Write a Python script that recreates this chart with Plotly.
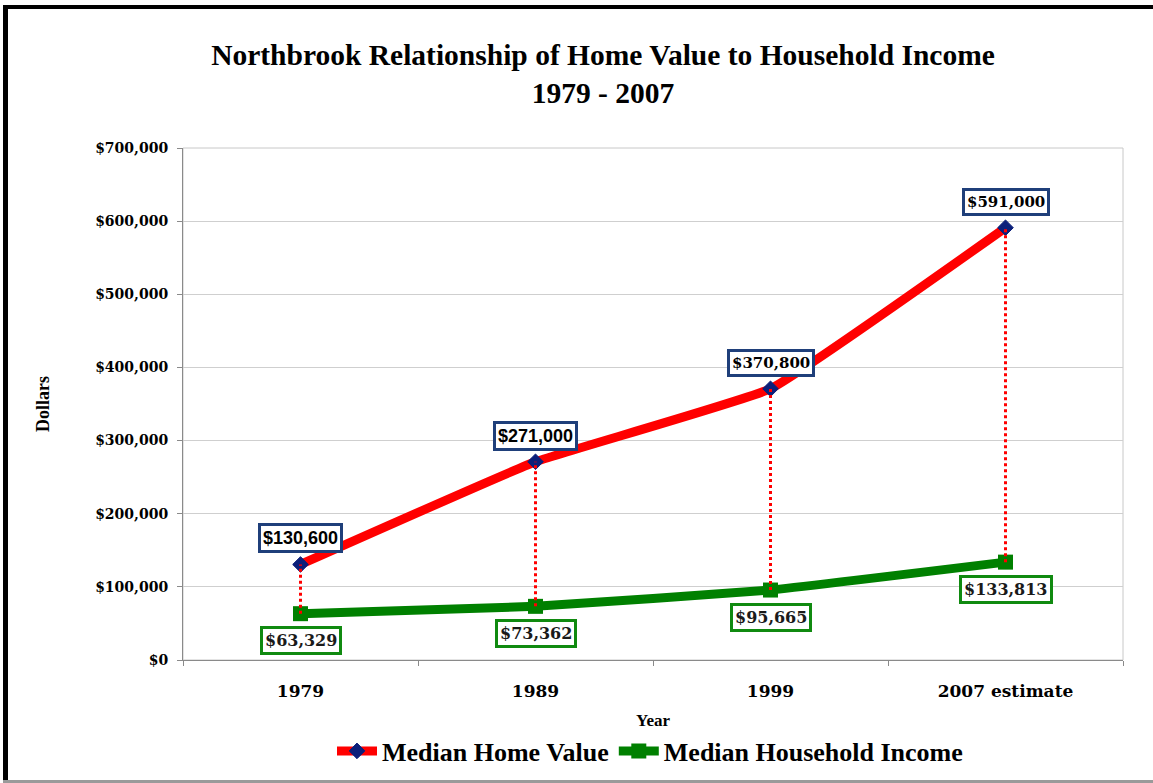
import plotly.graph_objects as go

categories = ["1979", "1989", "1999", "2007 estimate"]
home_value = [130600, 271000, 370800, 591000]
household_income = [63329, 73362, 95665, 133813]
home_labels = ["$130,600", "$271,000", "$370,800", "$591,000"]
income_labels = ["$63,329", "$73,362", "$95,665", "$133,813"]
y_ticks = [0, 100000, 200000, 300000, 400000, 500000, 600000, 700000]
y_tick_labels = ["$0", "$100,000", "$200,000", "$300,000", "$400,000", "$500,000", "$600,000", "$700,000"]

W, H = 1153, 783
PLOT_LEFT, PLOT_RIGHT, PLOT_TOP, PLOT_BOTTOM = 183, 1123, 148, 660
L, R, T, B = PLOT_LEFT, W - PLOT_RIGHT, PLOT_TOP, H - PLOT_BOTTOM
PW, PH = W - L - R, H - T - B

def px(x):
    return (x - L) / PW

def py(y):
    return (PLOT_BOTTOM - y) / PH

SERIF = "Liberation Serif"
WSERIF = "DejaVu Serif"
SANS = "Liberation Sans"

fig = go.Figure()

fig.add_trace(go.Scatter(
    x=categories, y=home_value, name="<b>Median Home Value</b>",
    mode="lines+markers",
    line=dict(color="#ff0000", width=9, shape="spline", smoothing=0.3),
    marker=dict(symbol="diamond", size=12, color="#0b1f7a", line=dict(color="#0b1f7a", width=1)),
))
fig.add_trace(go.Scatter(
    x=categories, y=household_income, name="<b>Median Household Income</b>",
    mode="lines+markers",
    line=dict(color="#008000", width=9, shape="spline", smoothing=0.3),
    marker=dict(symbol="square", size=15, color="#008000"),
))

shapes = []
# high-low drop lines (category index positions)
for i, (hv, inc) in enumerate(zip(home_value, household_income)):
    shapes.append(dict(type="line", xref="x", yref="y", x0=i, x1=i, y0=inc, y1=hv,
                       line=dict(color="#ff0000", width=3, dash="dot"), layer="above"))

# outer frame
shapes.append(dict(type="rect", xref="paper", yref="paper", x0=px(3), x1=px(1153), y0=py(9), y1=py(5),
                   fillcolor="black", line=dict(width=0), layer="above"))
shapes.append(dict(type="rect", xref="paper", yref="paper", x0=px(3), x1=px(8), y0=py(H), y1=py(5),
                   fillcolor="black", line=dict(width=0), layer="above"))
shapes.append(dict(type="rect", xref="paper", yref="paper", x0=px(3), x1=px(1153), y0=py(H), y1=py(H - 3),
                   fillcolor="#9a9a9a", line=dict(width=0), layer="above"))
# plot area border
shapes.append(dict(type="rect", xref="paper", yref="paper", x0=0, x1=1, y0=0, y1=1,
                   line=dict(color="#c8c8c8", width=1), layer="below"))

annotations = []
home_fonts = [(SANS, 18), (SANS, 18), (WSERIF, 15), (WSERIF, 15)]
for i, (hv, lab, f) in enumerate(zip(home_value, home_labels, home_fonts)):
    annotations.append(dict(x=i, y=hv, xref="x", yref="y", text="<b>" + lab + "</b>", showarrow=False,
                            yshift=26, font=dict(family=f[0], size=f[1], color="black"),
                            bgcolor="white", bordercolor="#1f3f7a", borderwidth=3, borderpad=2))
for i, (inc, lab) in enumerate(zip(household_income, income_labels)):
    annotations.append(dict(x=i, y=inc, xref="x", yref="y", text="<b>" + lab + "</b>", showarrow=False,
                            yshift=-27, font=dict(family=WSERIF, size=16, color="#1a1a1a"),
                            bgcolor="white", bordercolor="#108a10", borderwidth=3, borderpad=2))

fig.update_layout(
    width=W, height=H,
    margin=dict(l=L, r=R, t=T, b=B, autoexpand=False),
    paper_bgcolor="white", plot_bgcolor="white",
    title=dict(text="<b>Northbrook Relationship of Home Value to Household Income<br>1979 - 2007</b>",
               x=px(603), xref="paper", xanchor="center", y=1 - 65 / H, yanchor="middle",
               font=dict(family=SERIF, size=29.5, color="black")),
    xaxis=dict(type="category", categoryorder="array", categoryarray=categories, automargin=False,
               showgrid=False, showline=True, linecolor="#8a8a8a", linewidth=1,
               ticks="outside", tickson="boundaries", ticklen=5, tickcolor="#8a8a8a",
               ticklabelstandoff=16,
               tickfont=dict(family=WSERIF, size=17, color="black"),
               title=dict(text="<b>Year</b>", font=dict(family=SERIF, size=17, color="black"), standoff=13),
               range=[-0.5, 3.5]),
    yaxis=dict(range=[0, 700000], tickvals=y_ticks, ticktext=["<b>" + t + "</b>" for t in y_tick_labels],
               automargin=False,
               showgrid=True, gridcolor="#cfcfcf", gridwidth=1,
               showline=True, linecolor="#8a8a8a", linewidth=1,
               ticks="outside", ticklen=5, tickcolor="#8a8a8a",
               ticklabelstandoff=6,
               tickfont=dict(family=WSERIF, size=14, color="black"),
               title=dict(text="<b>Dollars</b>", font=dict(family=SERIF, size=18, color="black"), standoff=40),
               zeroline=False),
    legend=dict(orientation="h", x=px(650), xanchor="center", y=py(751), yanchor="middle",
                font=dict(family=SERIF, size=26, color="black"), itemwidth=40,
                bgcolor="rgba(0,0,0,0)"),
    shapes=shapes,
    annotations=annotations,
    showlegend=True,
)
fig.update_xaxes(tickprefix="<b>", ticksuffix="</b>")

fig.write_html(
    "out.html",
    config={"displayModeBar": False},
    post_script=("document.documentElement.style.margin='0';document.documentElement.style.padding='0';"
                 "document.body.style.margin='0';document.body.style.padding='0';"
                 "document.documentElement.style.overflow='hidden';document.body.style.overflow='hidden';"),
)
